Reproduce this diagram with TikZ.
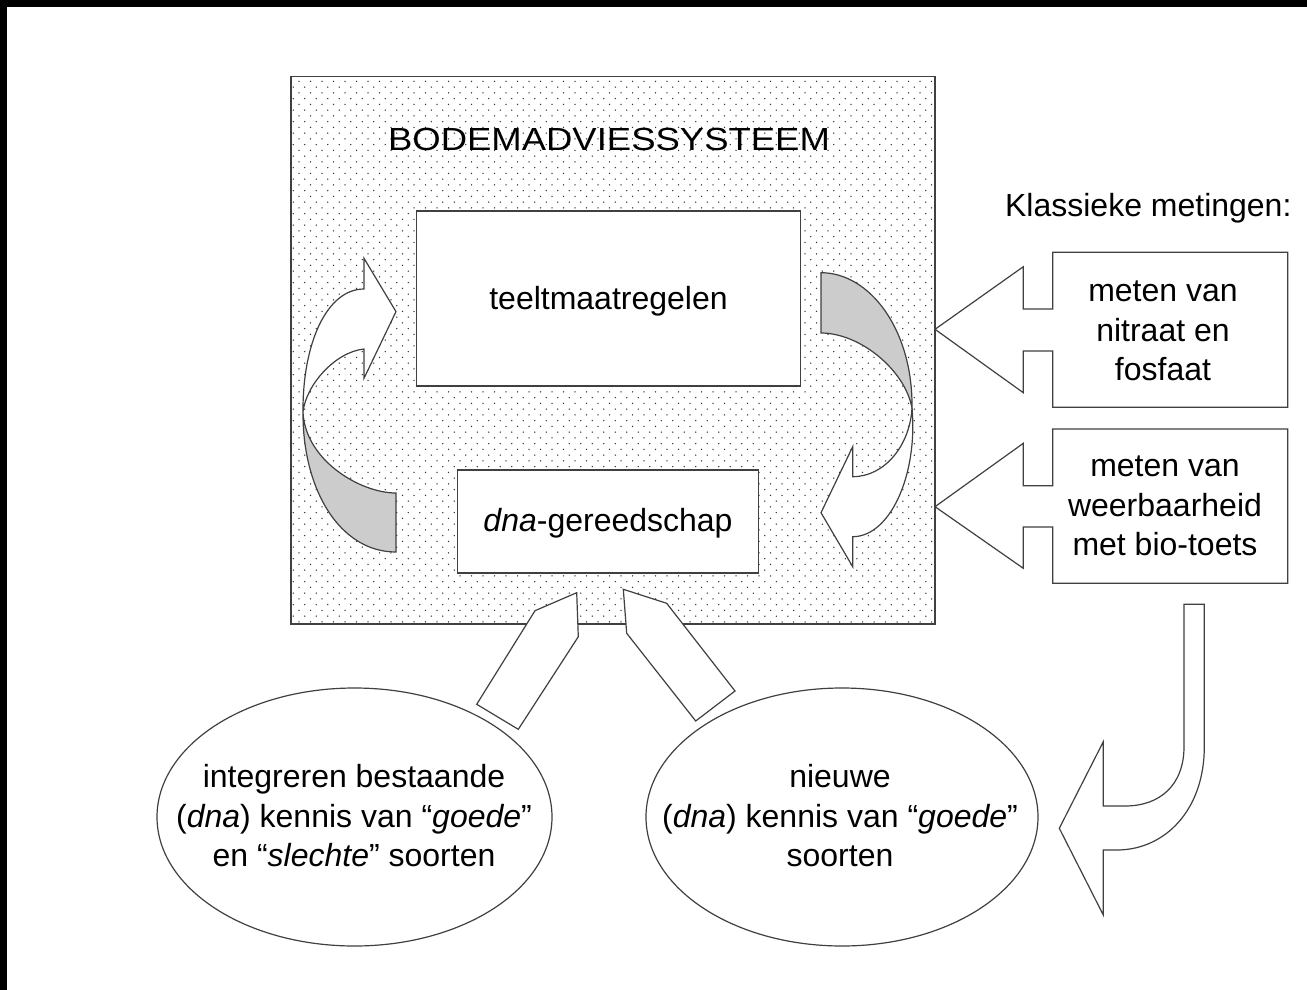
\documentclass[tikz,border=0pt]{standalone}
\usepackage{fontspec}
\setmainfont{Liberation Sans}
\newfontfamily\titlefont[FakeStretch=1.14]{Liberation Sans}
\usetikzlibrary{shapes.geometric,patterns}
\pgfdeclarepatternformonly{sparsedots}{\pgfqpoint{-1pt}{-1pt}}{\pgfqpoint{12.5pt}{12.5pt}}{\pgfqpoint{11.5pt}{11.5pt}}{%
  \pgfpathcircle{\pgfqpoint{0pt}{0pt}}{0.75pt}%
  \pgfpathcircle{\pgfqpoint{5.75pt}{5.75pt}}{0.75pt}%
  \pgfusepath{fill}}
\begin{document}
\begin{tikzpicture}[x=1pt,y=-1pt,line join=miter,
  ln/.style={draw=black!75,line width=1.2pt},
  whiteshape/.style={ln,fill=white},
  grayshape/.style={ln,fill=black!20},
  boxnode/.style={rectangle,ln,fill=white,inner sep=0pt,outer sep=0pt},
  ellnode/.style={ellipse,ln,fill=white,inner sep=0pt,outer sep=0pt},
  txt/.style={inner sep=0pt,anchor=base,align=center,font=\fontsize{32}{39.5}\selectfont}]
\useasboundingbox (0,0) rectangle (1307,990);
\fill[white] (0,0) rectangle (1307,990);
\fill[black] (0,0) rectangle (1307,7);
\fill[black] (0,0) rectangle (7,990);

% main system box
\node (sys) [rectangle,ln,preaction={fill=white},pattern=sparsedots,pattern color=black!80,
  minimum width=644pt,minimum height=547.4pt,inner sep=0pt] at (613,350.3) {};
\node (title) [txt,font=\fontsize{32}{39.5}\titlefont] at (609,150.6) {BODEMADVIESSYSTEEM};

\node (teelt) [boxnode,minimum width=383.8pt,minimum height=175pt] at (608.5,298.5) {};
\node (teeltT) [txt] at (608.5,309.5) {teeltmaatregelen};
\node (dna) [boxnode,minimum width=300.5pt,minimum height=103pt] at (608,521.5) {};
\node (dnaT) [txt] at (608,531) {\textit{dna}-gereedschap};

% left curved arrow
\draw[grayshape] (396,493) -- (396,552) .. controls (340,552) and (302.5,490) .. (303,412)
  .. controls (305,460) and (360,493) .. (396,493) -- cycle;
\draw[whiteshape] (364,289) -- (364,258.3) -- (396,311.6) -- (364,378.3) -- (364,349)
  .. controls (335,352) and (306,385) .. (303,412)
  .. controls (302.5,343) and (327,289) .. (364,289) -- cycle;

% right curved arrow
\draw[grayshape] (821,272.7) -- (821,333) .. controls (860,333) and (905,370) .. (912,408)
  .. controls (913,330) and (870,272.7) .. (821,272.7) -- cycle;
\draw[whiteshape] (852.7,476.7) -- (852.7,446.7) -- (821,512.7) -- (852.7,566.7) -- (852.7,536.7)
  .. controls (890,536.7) and (918,475) .. (912,408)
  .. controls (910,445) and (885,476.7) .. (852.7,476.7) -- cycle;

% callouts (klassieke metingen)
\node (klas) [txt] at (1148.3,216.7) {Klassieke metingen:};
\draw[whiteshape] (1052.7,252.3) -- (1287.7,252.3) -- (1287.7,407.3) -- (1052.7,407.3) -- (1052.7,351)
  -- (1023.3,351) -- (1023.3,392.7) -- (935,329.3) -- (1023.3,266.7) -- (1023.3,309) -- (1052.7,309) -- cycle;
\node (nitr) [txt] at (1163,380.5) {meten van\\nitraat en\\fosfaat};
\draw[whiteshape] (1052.7,429) -- (1287.7,429) -- (1287.7,583.3) -- (1052.7,583.3) -- (1052.7,527)
  -- (1023.3,527) -- (1023.3,568.3) -- (935,506.7) -- (1023.3,443.3) -- (1023.3,485.7) -- (1052.7,485.7) -- cycle;
\node (weer) [txt] at (1165,555.5) {meten van\\weerbaarheid\\met bio-toets};

% U-turn arrow
\draw[whiteshape] (1184,604.3) -- (1204.3,604.3) -- (1204.3,746.7)
  .. controls (1204.3,810) and (1165,850) .. (1116.7,850) -- (1103.3,850) -- (1103.3,915)
  -- (1059.3,828.3) -- (1103.3,741.7) -- (1103.3,806) -- (1125,806)
  .. controls (1160,806) and (1184,785) .. (1184,746.7) -- cycle;

% ellipses
\node (bestaand) [ellnode,minimum width=395pt,minimum height=258pt] at (354.5,817) {};
\node (bestaandT) [txt] at (354,866.5) {integreren bestaande\\(\textit{dna}) kennis van “\textit{goede}”\\en “\textit{slechte}” soorten};
\node (nieuw) [ellnode,minimum width=392pt,minimum height=258pt] at (842,817) {};
\node (nieuwT) [txt] at (840,866.5) {nieuwe\\(\textit{dna}) kennis van “\textit{goede}”\\soorten};

% block arrows from ellipses into the system
\draw[whiteshape] (576.7,592.7) -- (578.3,636.7) -- (518.3,729.3) -- (476.7,704.3) -- (535,610.7) -- cycle;
\draw[whiteshape] (623.3,589.3) -- (666.7,603.3) -- (735,691) -- (695.7,721) -- (626.7,633.3) -- cycle;
\end{tikzpicture}
\end{document}
